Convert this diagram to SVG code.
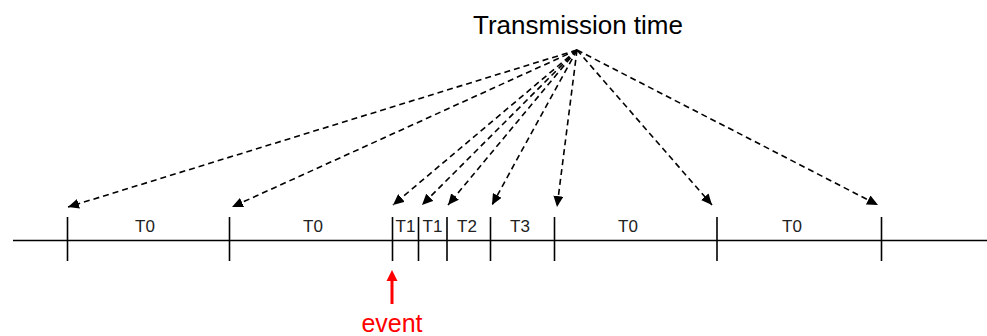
<svg xmlns="http://www.w3.org/2000/svg" width="987" height="336" viewBox="0 0 987 336">
<style>
.axis{stroke:#000;stroke-width:1.6;fill:none}
.tick{stroke:#000;stroke-width:1.6}
.dash{stroke:#000;stroke-width:1.6;stroke-dasharray:6 4;fill:none;marker-end:url(#ah)}
.lbl{font-family:"Liberation Sans",Arial,sans-serif;font-size:17px;fill:#222;text-anchor:middle}
.title{font-family:"Liberation Sans",Arial,sans-serif;font-size:26px;fill:#000;text-anchor:middle}
.ev{font-family:"Liberation Sans",Arial,sans-serif;font-size:25px;fill:#ff0000;text-anchor:middle}
</style>
<defs>
<marker id="ah" markerUnits="userSpaceOnUse" markerWidth="12" markerHeight="10" refX="11" refY="5" orient="auto">
<path d="M0,0 L11,5 L0,10 Z" fill="#000"/>
</marker>
</defs>
<rect width="987" height="336" fill="#fff"/>
<g id="title"><text class="title" x="578" y="34">Transmission time</text></g>
<g id="timeline">
<line class="axis" x1="13" y1="240.5" x2="987" y2="240.5"/>
<line class="tick" x1="67.5" y1="217" x2="67.5" y2="261"/>
<line class="tick" x1="229.5" y1="217" x2="229.5" y2="261"/>
<line class="tick" x1="392.5" y1="217" x2="392.5" y2="261"/>
<line class="tick" x1="418.5" y1="217" x2="418.5" y2="261"/>
<line class="tick" x1="447" y1="217" x2="447" y2="261"/>
<line class="tick" x1="490.5" y1="217" x2="490.5" y2="261"/>
<line class="tick" x1="554.5" y1="217" x2="554.5" y2="261"/>
<line class="tick" x1="717" y1="217" x2="717" y2="261"/>
<line class="tick" x1="881.5" y1="217" x2="881.5" y2="261"/>
</g>
<g id="labels">
<text class="lbl" x="145" y="232">T0</text>
<text class="lbl" x="313" y="232">T0</text>
<text class="lbl" x="405.5" y="232">T1</text>
<text class="lbl" x="432.5" y="232">T1</text>
<text class="lbl" x="467" y="232">T2</text>
<text class="lbl" x="520" y="232">T3</text>
<text class="lbl" x="628" y="232">T0</text>
<text class="lbl" x="792" y="232">T0</text>
</g>
<g id="connectors">
<line class="dash" x1="577" y1="50" x2="68" y2="207"/>
<line class="dash" x1="577" y1="50" x2="232" y2="207"/>
<line class="dash" x1="577" y1="50" x2="393" y2="205"/>
<line class="dash" x1="577" y1="50" x2="422" y2="205"/>
<line class="dash" x1="577" y1="50" x2="448" y2="205"/>
<line class="dash" x1="577" y1="50" x2="492" y2="205"/>
<line class="dash" x1="577" y1="50" x2="557" y2="207"/>
<line class="dash" x1="577" y1="50" x2="712" y2="205"/>
<line class="dash" x1="577" y1="50" x2="878" y2="205"/>
</g>
<g id="event">
<line x1="392" y1="304" x2="392" y2="278" stroke="#ff0000" stroke-width="3"/>
<path d="M392,270 L386.5,281 L397.5,281 Z" fill="#ff0000"/>
<text class="ev" x="392" y="332">event</text>
</g>
</svg>
